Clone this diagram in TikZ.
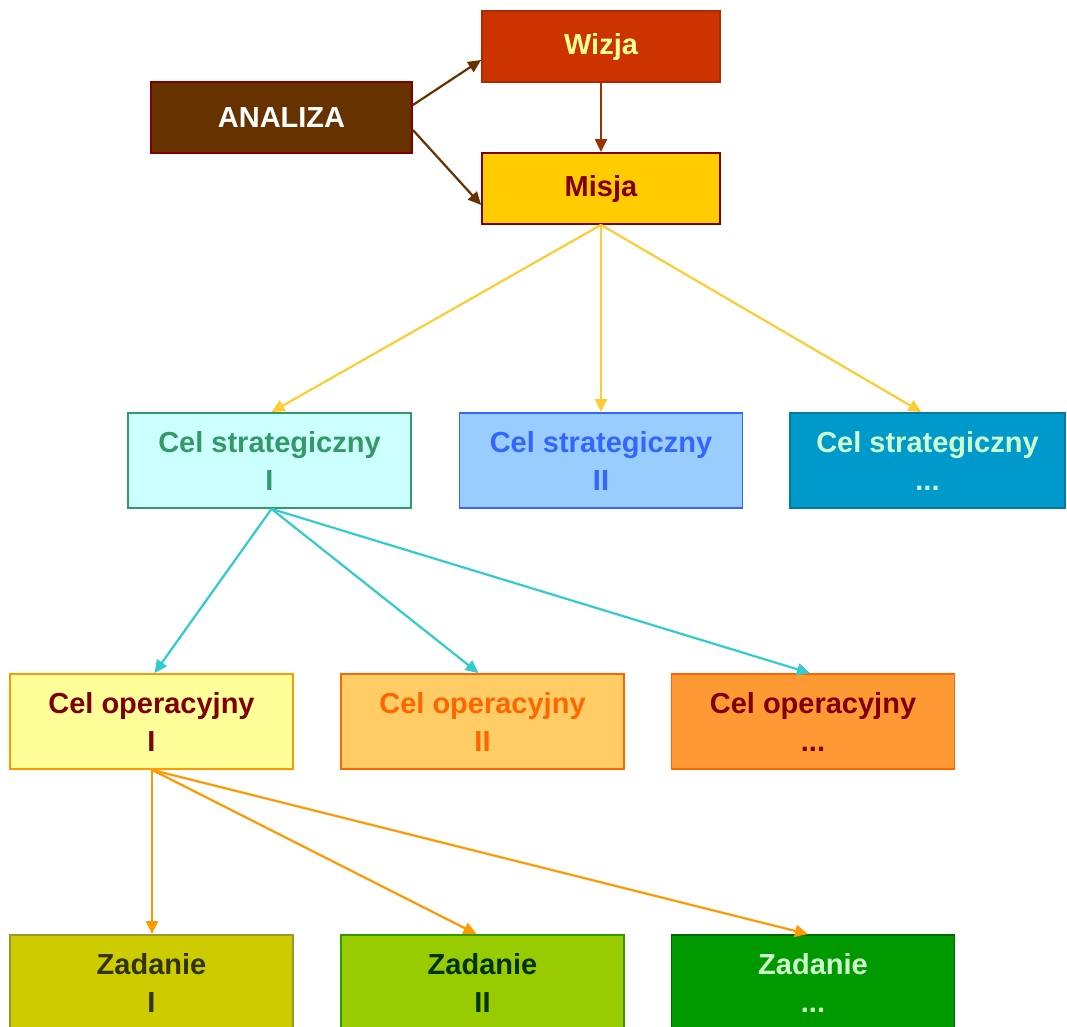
\documentclass[tikz,border=0pt]{standalone}
\usepackage{fontspec}
\setmainfont{Liberation Sans}
\usetikzlibrary{arrows.meta}
\definecolor{anfill}{HTML}{663300}
\definecolor{anbord}{HTML}{800000}
\definecolor{wzfill}{HTML}{CC3300}
\definecolor{wztext}{HTML}{FFFF99}
\definecolor{msfill}{HTML}{FFCC00}
\definecolor{mstext}{HTML}{800000}
\definecolor{csafill}{HTML}{CCFFFF}
\definecolor{csatext}{HTML}{339966}
\definecolor{csbfill}{HTML}{99CCFF}
\definecolor{csbtext}{HTML}{3366FF}
\definecolor{cscfill}{HTML}{0099CC}
\definecolor{cscbord}{HTML}{007AA3}
\definecolor{csctext}{HTML}{CCFFCC}
\definecolor{coafill}{HTML}{FFFF99}
\definecolor{coabord}{HTML}{FF9900}
\definecolor{cobfill}{HTML}{FFCC66}
\definecolor{cobtext}{HTML}{FF6600}
\definecolor{cocfill}{HTML}{FF9933}
\definecolor{zafill}{HTML}{CCCC00}
\definecolor{zabord}{HTML}{999933}
\definecolor{zatext}{HTML}{333300}
\definecolor{zbfill}{HTML}{99CC00}
\definecolor{zbbord}{HTML}{339900}
\definecolor{zbtext}{HTML}{003300}
\definecolor{zcfill}{HTML}{009900}
\definecolor{zcbord}{HTML}{006600}
\definecolor{zctext}{HTML}{CCFFCC}
\definecolor{arbrown}{HTML}{663300}
\definecolor{arbrown2}{HTML}{993300}
\definecolor{aryellow}{HTML}{FFCC33}
\definecolor{arcyan}{HTML}{33CCCC}
\definecolor{arorange}{HTML}{FF9900}
\tikzset{
  box/.style={draw, line width=1.8pt, inner sep=0pt, align=center,
    font=\fontsize{29}{38}\selectfont\bfseries},
  small/.style={box, minimum width=238pt, minimum height=71pt},
  big/.style={box, minimum width=283pt, minimum height=95pt},
  conn/.style={line width=2.2pt, -{Triangle[length=13pt,width=12pt]}}
}
\begin{document}
\begin{tikzpicture}[x=1pt,y=-1pt]
\clip (0,0) rectangle (1067,1026);
\fill[white] (0,0) rectangle (1067,1026);
\node[small, minimum width=261pt, fill=anfill, draw=anbord, text=white] (an) at (281.5,117.5) {ANALIZA};
\node[small, fill=wzfill, draw=wzfill!85!black, text=wztext] (wz) at (601,46.5) {Wizja};
\node[small, fill=msfill, draw=anbord, text=mstext] (ms) at (601,188.5) {Misja};
\node[big, fill=csafill, draw=csatext, text=csatext] (cs1) at (269.5,460.5) {Cel strategiczny\\I};
\node[big, fill=csbfill, draw=csbtext, text=csbtext] (cs2) at (601,460.5) {Cel strategiczny\\II};
\node[big, minimum width=275pt, fill=cscfill, draw=cscbord, text=csctext] (cs3) at (927.5,460.5) {Cel strategiczny\\...};
\node[big, fill=coafill, draw=coabord, text=mstext] (co1) at (151.5,721.5) {Cel operacyjny\\I};
\node[big, fill=cobfill, draw=cobtext, text=cobtext] (co2) at (482.5,721.5) {Cel operacyjny\\II};
\node[big, fill=cocfill, draw=cobtext, text=mstext] (co3) at (813,721.5) {Cel operacyjny\\...};
\node[big, fill=zafill, draw=zabord, text=zatext] (z1) at (151.5,982.5) {Zadanie\\I};
\node[big, fill=zbfill, draw=zbbord, text=zbtext] (z2) at (482.5,982.5) {Zadanie\\II};
\node[big, fill=zcfill, draw=zcbord, text=zctext] (z3) at (813,982.5) {Zadanie\\...};
\draw[conn, arbrown] ([yshift=12.5pt]an.east) -- ([yshift=-13.5pt]wz.west);
\draw[conn, arbrown] ([yshift=-12.5pt]an.east) -- ([yshift=-16.5pt]ms.west);
\draw[conn, arbrown2] (wz.south) -- (ms.north);
\draw[conn, aryellow] (ms.south) -- ([xshift=2pt]cs1.north);
\draw[conn, aryellow] (ms.south) -- (cs2.north);
\draw[conn, aryellow] (ms.south) -- ([xshift=-6pt]cs3.north);
\draw[conn, arcyan] ([xshift=2pt]cs1.south) -- ([xshift=3pt]co1.north);
\draw[conn, arcyan] ([xshift=2pt]cs1.south) -- ([xshift=-4pt]co2.north);
\draw[conn, arcyan] ([xshift=2pt]cs1.south) -- ([xshift=-3pt]co3.north);
\draw[conn, arorange] ([xshift=0.5pt]co1.south) -- ([xshift=0.5pt]z1.north);
\draw[conn, arorange] ([xshift=0.5pt]co1.south) -- ([xshift=-6pt]z2.north);
\draw[conn, arorange] ([xshift=0.5pt]co1.south) -- ([xshift=-5pt]z3.north);
\end{tikzpicture}
\end{document}
